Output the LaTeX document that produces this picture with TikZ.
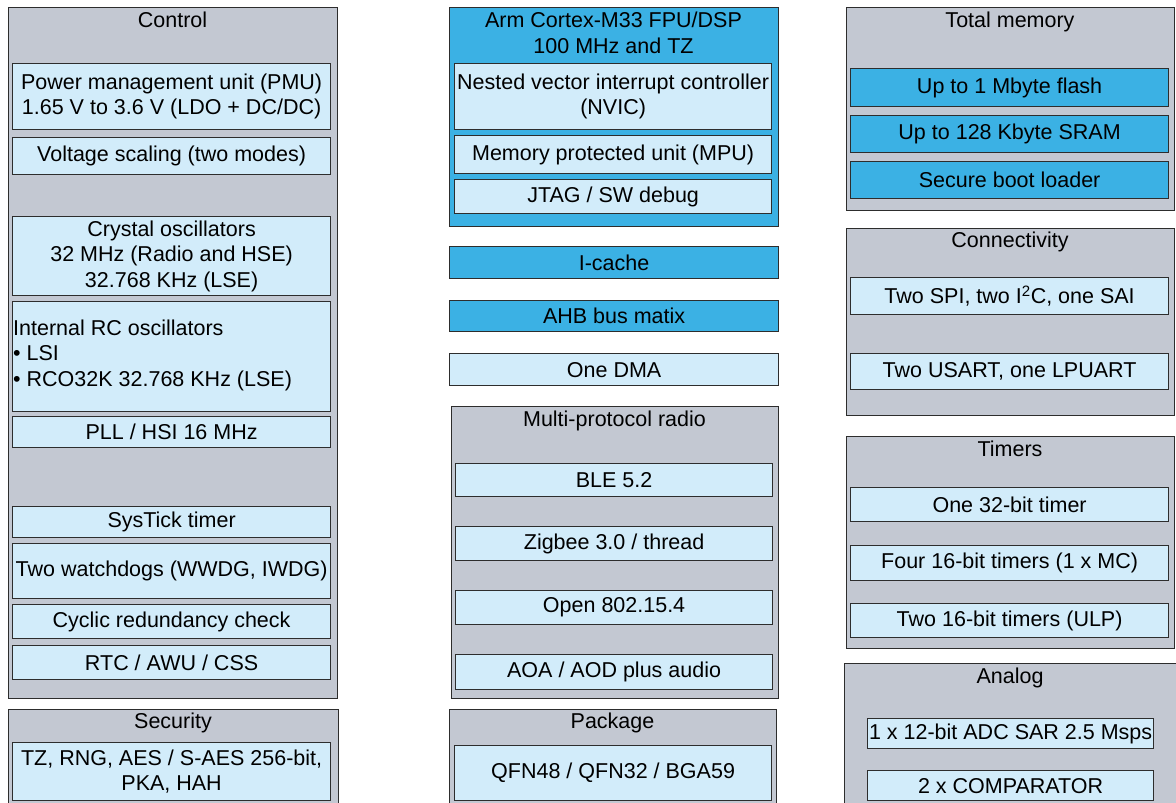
\documentclass[tikz,border=0pt]{standalone}
\usepackage{fontspec}
\setmainfont{Liberation Sans}
\definecolor{grp}{RGB}{195,200,210}
\definecolor{lite}{RGB}{210,236,250}
\definecolor{cyanb}{RGB}{59,177,228}
\definecolor{edge}{RGB}{45,45,45}
\tikzset{
  base/.style={draw=edge, line width=1.2pt, inner sep=0pt, anchor=north west, align=center,
    font=\fontsize{21.5}{25.5}\selectfont},
  outer/.style={base, fill=grp},
  core/.style={base, fill=cyanb},
  sub/.style={base, fill=lite},
  hot/.style={base, fill=cyanb},
  ttl/.style={inner sep=0pt, align=center, font=\fontsize{21.5}{25.5}\selectfont, anchor=north},
}
% name, style, x1, y1, x2, y2, text
\newcommand\blk[7]{\node[#2, minimum width={(#5-#3)*1pt}, minimum height={(#6-#4)*1pt}] (#1) at (#3,#4) {#7};}
\begin{document}
\begin{tikzpicture}[x=1pt,y=-1pt]
\useasboundingbox (0,0) rectangle (1176,803);
\clip (0,0) rectangle (1176,803);
% ---- left column
\blk{control}{outer}{8}{7}{337}{698}{}
\node[ttl] (controlT) at (172.5,12) {Control};
\blk{pmu}{sub}{12}{63}{330}{129}{Power management unit (PMU)\\1.65 V to 3.6 V (LDO + DC/DC)}
\blk{vscale}{sub}{12}{137}{330}{174}{Voltage scaling (two modes)}
\blk{xtal}{sub}{12}{216}{330}{295}{Crystal oscillators\\32 MHz (Radio and HSE)\\32.768 KHz (LSE)}
\blk{rc}{sub}{12}{301}{330}{411}{}
\node[inner sep=0pt, anchor=west, align=left, font=\fontsize{21.5}{25.5}\selectfont] (rcT) at (13,355)
  {Internal RC oscillators\\• LSI\\• RCO32K 32.768 KHz (LSE)};
\blk{pll}{sub}{12}{416}{330}{447}{PLL / HSI 16 MHz}
\blk{systick}{sub}{12}{506}{330}{537}{SysTick timer}
\blk{wdg}{sub}{12}{543}{330}{598}{Two watchdogs (WWDG, IWDG)}
\blk{crc}{sub}{12}{604}{330}{638}{Cyclic redundancy check}
\blk{rtc}{sub}{12}{645}{330}{679}{RTC / AWU / CSS}
\blk{security}{outer}{8}{709}{338}{820}{}
\node[ttl] (securityT) at (173,713) {Security};
\blk{sec}{sub}{12}{742}{330}{800}{TZ, RNG, AES / S-AES 256-bit,\\PKA, HAH}
% ---- middle column
\blk{arm}{core}{449}{7}{778}{226}{}
\node[ttl] (armT) at (613.5,12) {Arm Cortex-M33 FPU/DSP\\100 MHz and TZ};
\blk{nvic}{sub}{454}{63}{771}{129}{Nested vector interrupt controller\\(NVIC)}
\blk{mpu}{sub}{454}{135}{771}{173}{Memory protected unit (MPU)}
\blk{jtag}{sub}{454}{179}{771}{213}{JTAG / SW debug}
\blk{icache}{hot}{449}{246}{778}{278}{I-cache}
\blk{ahb}{hot}{449}{300}{778}{331}{AHB bus matix}
\blk{dma}{sub}{449}{353}{778}{385}{One DMA}
\blk{radio}{outer}{451}{406}{778}{698}{}
\node[ttl] (radioT) at (614.5,411) {Multi-protocol radio};
\blk{ble}{sub}{455}{463}{772}{496}{BLE 5.2}
\blk{zigbee}{sub}{455}{526}{772}{560}{Zigbee 3.0 / thread}
\blk{open}{sub}{455}{590}{772}{624}{Open 802.15.4}
\blk{aoa}{sub}{455}{654}{772}{689}{AOA / AOD plus audio}
\blk{package}{outer}{449}{709}{776}{820}{}
\node[ttl] (packageT) at (612.5,713) {Package};
\blk{pkg}{sub}{454}{745}{771}{800}{QFN48 / QFN32 / BGA59}
% ---- right column
\blk{memory}{outer}{846}{7}{1174}{210}{}
\node[ttl] (memoryT) at (1010,12) {Total memory};
\blk{flash}{hot}{850}{68}{1168}{106}{Up to 1 Mbyte flash}
\blk{sram}{hot}{850}{115}{1168}{152}{Up to 128 Kbyte SRAM}
\blk{boot}{hot}{850}{161}{1168}{198}{Secure boot loader}
\blk{conn}{outer}{846}{228}{1174}{415}{}
\node[ttl] (connT) at (1010,232) {Connectivity};
\blk{spi}{sub}{850}{277}{1168}{314}{Two SPI, two I\textsuperscript{2}C, one SAI}
\blk{usart}{sub}{850}{353}{1168}{389}{Two USART, one LPUART}
\blk{timers}{outer}{846}{436}{1174}{648}{}
\node[ttl] (timersT) at (1010,441) {Timers};
\blk{t32}{sub}{850}{487}{1168}{521}{One 32-bit timer}
\blk{t16}{sub}{850}{545}{1168}{580}{Four 16-bit timers (1 x MC)}
\blk{tulp}{sub}{850}{603}{1168}{637}{Two 16-bit timers (ULP)}
\blk{analog}{outer}{844}{663}{1180}{820}{}
\node[ttl] (analogT) at (1010,668) {Analog};
\blk{adc}{sub}{867}{718}{1153}{748}{1 x 12-bit ADC SAR 2.5 Msps}
\blk{comp}{sub}{867}{770}{1153}{800}{2 x COMPARATOR}
\end{tikzpicture}
\end{document}
